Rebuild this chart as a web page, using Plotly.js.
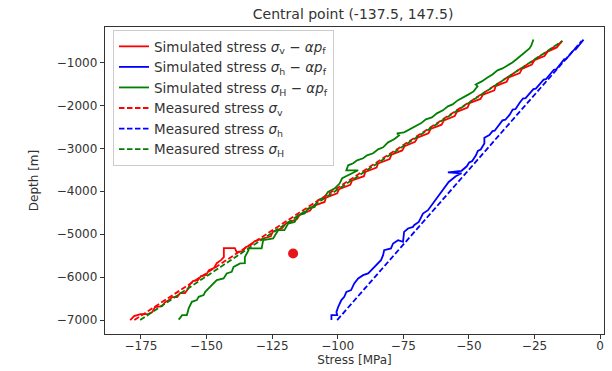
<!DOCTYPE html>
<html>
<head>
<meta charset="utf-8">
<script src="https://cdn.plot.ly/plotly-3.0.1.min.js"></script>
<style>html,body{margin:0;padding:0;background:#fff;}#chart{width:612px;height:371px;}</style>
</head>
<body>
<div id="chart"></div>
<script>
// Simulated sigma_v - alpha*p_f (red solid)
const simV_stress = [-179.1,-177.6,-175.2,-172.2,-170.7,-169.6,-166.9,-165.8,-164.3,-163.1,-161.2,-160.1,-158.2,-157.1,-156.3,-155.2,-153.3,-152.1,-150.2,-149.1,-147.2,-146.1,-144.5,-143.4,-143.4,-139.2,-138.5,-136.2,-135.1,-133.2,-131.7,-128.5,-125.5,-124.8,-121.0,-119.8,-115.5,-114.5,-110.5,-109.5,-105.0,-104.5,-100.2,-99.5,-95.2,-94.5,-90.0,-89.5,-85.2,-84.6,-80.2,-79.5,-75.4,-74.5,-70.5,-69.6,-65.4,-64.6,-60.4,-59.5,-55.4,-54.6,-50.5,-49.8,-45.6,-44.6,-40.3,-39.8,-35.6,-34.8,-30.6,-29.8,-26.0,-25.0,-21.2,-20.0,-16.5,-15.2,-14.5];
const simV_depth = [-7000,-6908,-6862,-6862,-6815,-6699,-6676,-6582,-6536,-6466,-6466,-6373,-6373,-6280,-6164,-6094,-6071,-5978,-5954,-5838,-5792,-5675,-5605,-5536,-5326,-5326,-5419,-5396,-5303,-5257,-5164,-5100,-5050,-4950,-4850,-4750,-4650,-4550,-4450,-4350,-4250,-4150,-4050,-3950,-3850,-3750,-3650,-3550,-3450,-3350,-3250,-3150,-3050,-2950,-2850,-2750,-2650,-2550,-2450,-2350,-2250,-2150,-2050,-1950,-1850,-1750,-1650,-1550,-1450,-1350,-1250,-1150,-1050,-950,-850,-750,-650,-550,-500];

// Simulated sigma_h - alpha*p_f (blue solid)
const simh_stress = [-102.4,-102.4,-100.2,-100.5,-99.8,-98.6,-97.5,-96.7,-94.9,-93.7,-92.2,-90.3,-88.4,-86.5,-84.6,-83.5,-82.7,-82.3,-79.7,-78.9,-77.0,-75.1,-74.7,-73.2,-71.3,-70.9,-69.1,-67.5,-65.6,-63.7,-61.8,-60.7,-58.8,-57.7,-55.0,-52.8,-58.0,-52.8,-50.8,-49.9,-48.8,-47.3,-46.6,-45.5,-44.1,-44.1,-42.2,-41.0,-40.2,-38.4,-37.2,-36.1,-34.5,-33.3,-32.2,-30.7,-29.4,-28.4,-26.8,-25.4,-24.5,-23.0,-21.5,-20.6,-19.1,-17.6,-16.7,-15.3,-13.7,-12.9,-11.4,-10.0,-9.3,-8.2,-6.3];
const simh_depth = [-7000,-6885,-6885,-6815,-6692,-6536,-6459,-6343,-6303,-6147,-6031,-5954,-5915,-5799,-5682,-5605,-5489,-5373,-5333,-5217,-5140,-5180,-4947,-4868,-4831,-4791,-4715,-4519,-4442,-4287,-4133,-4054,-3900,-3784,-3652,-3582,-3559,-3524,-3419,-3330,-3300,-3163,-3060,-3030,-2889,-2754,-2691,-2600,-2590,-2456,-2350,-2335,-2221,-2100,-2085,-1944,-1840,-1830,-1709,-1620,-1610,-1512,-1400,-1390,-1277,-1170,-1160,-1042,-930,-920,-805,-710,-700,-609,-470];

// Simulated sigma_H - alpha*p_f (green solid)
const simH_stress = [-160.6,-159.3,-157.5,-156.8,-155.6,-153.7,-153.0,-151.1,-150.5,-148.6,-147.3,-146.1,-143.5,-142.3,-140.4,-139.7,-137.2,-135.4,-135.4,-134.0,-134.0,-129.0,-128.4,-124.6,-122.7,-120.3,-118.9,-116.4,-115.1,-112.6,-111.3,-108.8,-107.5,-105.0,-103.7,-101.2,-99.3,-98.3,-92.2,-96.7,-96.0,-94.1,-92.6,-90.3,-88.8,-86.5,-84.6,-82.7,-80.8,-78.5,-76.6,-77.4,-74.7,-72.5,-70.6,-68.3,-66.4,-64.1,-62.2,-59.9,-58.0,-56.2,-54.3,-52.0,-50.1,-48.2,-46.7,-47.4,-45.1,-42.9,-41.0,-39.1,-37.2,-35.3,-33.4,-31.5,-29.6,-28.1,-26.9,-26.2,-25.4];
const simH_depth = [-6990,-6885,-6885,-6729,-6575,-6536,-6459,-6420,-6343,-6227,-6147,-6071,-6031,-5915,-5878,-5761,-5682,-5675,-5536,-5373,-5333,-5333,-5140,-5101,-4908,-4908,-4752,-4715,-4559,-4519,-4403,-4366,-4210,-4133,-4017,-3938,-3821,-3698,-3512,-3512,-3396,-3349,-3279,-3233,-3163,-3117,-3024,-2977,-2861,-2791,-2698,-2651,-2628,-2558,-2489,-2419,-2326,-2279,-2186,-2116,-2023,-1977,-1884,-1814,-1744,-1675,-1558,-1512,-1442,-1349,-1279,-1186,-1140,-1070,-1000,-907,-814,-744,-674,-605,-465];

// Measured stresses (dashed)
const meas_depth = [-7000, -500];
const measV_stress = [-177.5, -14.0];
const meash_stress = [-100.2, -7.0];
const measH_stress = [-175.3, -14.3];

// Red point
const point_stress = [-117.0];
const point_depth = [-5450];

const xTicks = [-175,-150,-125,-100,-75,-50,-25,0];
const yTicks = [-7000,-6000,-5000,-4000,-3000,-2000,-1000];

const names = [
  'Simulated stress <i>σ</i><sub>v</sub> − <i>αp</i><sub>f</sub>',
  'Simulated stress <i>σ</i><sub>h</sub> − <i>αp</i><sub>f</sub>',
  'Simulated stress <i>σ</i><sub>H</sub> − <i>αp</i><sub>f</sub>',
  'Measured stress <i>σ</i><sub>v</sub>',
  'Measured stress <i>σ</i><sub>h</sub>',
  'Measured stress <i>σ</i><sub>H</sub>'
];
const RED = '#ff0000', BLUE = '#0000ff', GREEN = '#008000';
const LW = 1.8;
const dash = '5.5px,2.5px';

const traces = [
  {x: simV_stress, y: simV_depth, mode: 'lines', name: names[0], line: {color: RED, width: LW}},
  {x: simh_stress, y: simh_depth, mode: 'lines', name: names[1], line: {color: BLUE, width: LW}},
  {x: simH_stress, y: simH_depth, mode: 'lines', name: names[2], line: {color: GREEN, width: LW}},
  {x: measV_stress, y: meas_depth, mode: 'lines', name: names[3], line: {color: RED, width: LW, dash: dash}},
  {x: meash_stress, y: meas_depth, mode: 'lines', name: names[4], line: {color: BLUE, width: LW, dash: dash}},
  {x: measH_stress, y: meas_depth, mode: 'lines', name: names[5], line: {color: GREEN, width: LW, dash: dash}},
  {x: point_stress, y: point_depth, mode: 'markers', showlegend: false, marker: {color: '#e8141b', size: 10}}
];

const axisCommon = {
  showgrid: false, zeroline: false, showline: true, mirror: true,
  linecolor: '#333', linewidth: 1.2, ticks: 'outside', ticklen: 4, tickcolor: '#333',
  tickfont: {family: 'DejaVu Sans', size: 12, color: '#333'}
};

const layout = {
  width: 612, height: 371,
  margin: {l: 105, r: 8, t: 27, b: 37},
  paper_bgcolor: '#fff', plot_bgcolor: '#fff',
  font: {family: 'DejaVu Sans', color: '#333'},
  title: {text: 'Central point (-137.5, 147.5)', font: {family: 'DejaVu Sans', size: 14, color: '#333'},
          x: 0.577, xanchor: 'center', y: 0.962, yanchor: 'middle'},
  xaxis: Object.assign({}, axisCommon, {
    range: [-188.7, 1.5], tickvals: xTicks, ticktext: xTicks.map(v => v < 0 ? '−' + Math.abs(v) : String(v)),
    ticklabelstandoff: -4,
    title: {text: 'Stress [MPa]', font: {family: 'DejaVu Sans', size: 12, color: '#333'}, standoff: 0}
  }),
  yaxis: Object.assign({}, axisCommon, {
    range: [-7325, -175], tickvals: yTicks, ticktext: yTicks.map(v => '−' + Math.abs(v)),
    title: {text: 'Depth [m]', font: {family: 'DejaVu Sans', size: 12, color: '#333'}, standoff: 15}
  }),
  legend: {
    x: 0.016, y: 0.99, xanchor: 'left', yanchor: 'top',
    bgcolor: 'rgba(255,255,255,0.85)', bordercolor: '#cccccc', borderwidth: 1,
    font: {family: 'DejaVu Sans', size: 13.5, color: '#333'},
    itemwidth: 30, tracegroupgap: 0
  },
  showlegend: true
};

Plotly.newPlot('chart', traces, layout, {displayModeBar: false, staticPlot: true});
</script>
</body>
</html>
